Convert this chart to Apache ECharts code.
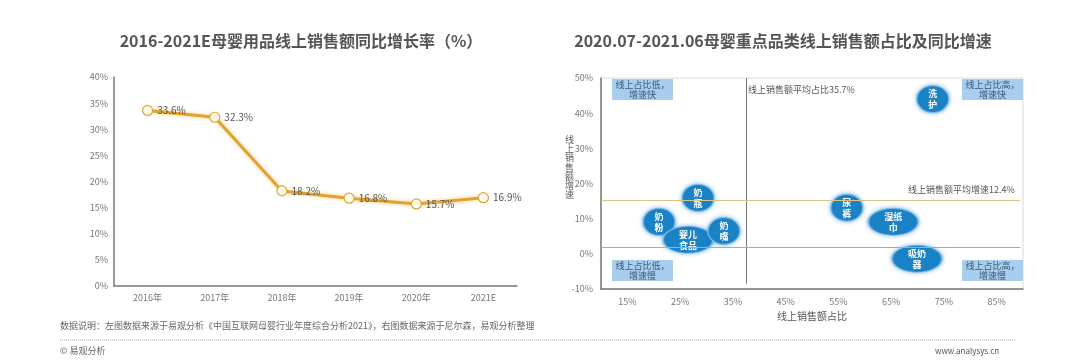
<!DOCTYPE html>
<html><head><meta charset="utf-8">
<script src="https://cdn.jsdelivr.net/npm/echarts@6/dist/echarts.min.js"></script>
<style>html,body{margin:0;padding:0;background:#fff;}#c{width:1080px;height:360px;}</style>
</head><body><div id="c"></div>
<script>
// Left chart data
const lineYears = ['2016年', '2017年', '2018年', '2019年', '2020年', '2021E'];
const lineRates = [33.6, 32.3, 18.2, 16.8, 15.7, 16.9];
const leftYTicks = [0, 40, 5];
// Right chart data
const bubbleLabels = ['奶\n瓶', '奶\n粉', '婴儿\n食品', '奶\n嘴', '尿\n裤', '湿纸\n巾', '吸奶\n器', '洗\n护'];
const bubbleShare = [28.4, 21.0, 26.5, 33.3, 56.6, 65.4, 69.9, 72.9];
const bubbleGrowth = [15.9, 9.1, 4.0, 6.5, 13.1, 9.1, -1.4, 44.0];
const avgShareText = 35.7;
const avgGrowthText = 12.4;
const avgShareLine = 37.6;
const avgGrowthLine = 15.3;
const baseGrowthLine = 2.0;
const shareTicks = [10, 90, 5];
const growthTicks = [-10, 50, 10];
const quadrantTexts = ['线上占比低，\n增速快', '线上占比高，\n增速快', '线上占比低，\n增速慢', '线上占比高，\n增速慢'];
const yNameRight = '线上销售额增速';

const FONT = '"Noto Sans CJK SC", "Noto Sans", sans-serif';
const chart = echarts.init(document.getElementById('c'));

function quadBox(left, top, txt) {
  return {
    type: 'group', left: left, top: top,
    children: [
      {type: 'rect', shape: {x: 0, y: 0, width: 61, height: 21}, style: {fill: '#a9cdee'}},
      {type: 'text', x: 30.5, y: 10.5, style: {text: txt, fill: '#3b5878', fontSize: 9, fontFamily: FONT, align: 'center', verticalAlign: 'middle', lineHeight: 10}}
    ]
  };
}
const yNameChars = yNameRight.split('').map((ch, i) => ({
  type: 'text', left: 565, top: 135 + i * 9.2,
  style: {text: ch, fill: '#5a5a5a', fontSize: 9, fontFamily: FONT}
}));

chart.setOption({
  backgroundColor: '#fff',
  textStyle: {fontFamily: FONT},
  title: [
    {text: '2016-2021E母婴用品线上销售额同比增长率（%）', left: 296, top: 28, textAlign: 'center',
     textStyle: {fontSize: 16, fontWeight: 'bold', color: '#555', fontFamily: FONT}},
    {text: '2020.07-2021.06母婴重点品类线上销售额占比及同比增速', left: 778, top: 28, textAlign: 'center',
     textStyle: {fontSize: 16, fontWeight: 'bold', color: '#555', fontFamily: FONT}}
  ],
  grid: [
    {left: 114, right: 563, top: 77, bottom: 74},
    {left: 601, right: 57, top: 78, bottom: 71, show: true, borderColor: '#dcdcdc', borderWidth: 1}
  ],
  xAxis: [
    {type: 'category', gridIndex: 0, data: lineYears, boundaryGap: true,
     axisLine: {lineStyle: {color: '#777', width: 1.5}}, axisTick: {show: false},
     axisLabel: {color: '#777', fontSize: 9, margin: 7}},
    {type: 'value', gridIndex: 1, min: shareTicks[0], max: shareTicks[1], interval: shareTicks[2],
     splitLine: {show: false}, axisTick: {show: false},
     axisLine: {show: true, onZero: false, lineStyle: {color: '#777', width: 1.5}},
     axisLabel: {color: '#777', fontSize: 9, margin: 8,
       formatter: v => (v % 10 === 5 ? v + '%' : '')},
     name: '线上销售额占比', nameLocation: 'middle', nameGap: 21,
     nameTextStyle: {color: '#555', fontSize: 10}}
  ],
  yAxis: [
    {type: 'value', gridIndex: 0, min: leftYTicks[0], max: leftYTicks[1], interval: leftYTicks[2],
     splitLine: {show: false}, axisLine: {show: true, lineStyle: {color: '#777', width: 1.5}},
     axisTick: {show: false}, axisLabel: {color: '#777', fontSize: 9, formatter: '{value}%', margin: 6}},
    {type: 'value', gridIndex: 1, min: growthTicks[0], max: growthTicks[1], interval: growthTicks[2],
     splitLine: {show: false}, axisLine: {show: true, onZero: false, lineStyle: {color: '#777', width: 1.5}},
     axisTick: {show: false}, axisLabel: {color: '#777', fontSize: 9, formatter: '{value}%', margin: 8}}
  ],
  series: [
    {type: 'line', xAxisIndex: 0, yAxisIndex: 0, data: lineRates,
     symbol: 'circle', symbolSize: 10,
     lineStyle: {color: '#e0a232', width: 3, shadowColor: 'rgba(245,190,80,0.7)', shadowBlur: 4},
     itemStyle: {color: '#fffbe8', borderColor: '#d9a640', borderWidth: 1.2},
     label: {show: true, position: 'right', distance: 4, color: '#555', fontSize: 10,
             formatter: p => p.value.toFixed(1) + '%'}},
    {type: 'scatter', xAxisIndex: 1, yAxisIndex: 1,
     data: bubbleShare.map((s, i) => ({value: [s, bubbleGrowth[i]]})),
     symbol: 'circle',
     symbolSize: (v, p) => (bubbleLabels[p.dataIndex].split('\n')[0].length > 1 ? [50, 27] : [32, 27]),
     itemStyle: {color: '#1b82c6', borderColor: 'rgba(130,190,235,0.8)', borderWidth: 1.5,
                 shadowColor: 'rgba(40,130,200,0.5)', shadowBlur: 4, opacity: 1},
     label: {show: true, position: 'inside', color: '#fff', fontSize: 9, fontWeight: 'bold', lineHeight: 11,
             formatter: p => bubbleLabels[p.dataIndex]},
     markLine: {silent: true, symbol: 'none', label: {show: false},
       data: [
         [{coord: [avgShareLine, -8.5], lineStyle: {color: '#777', width: 1, type: 'solid'}},
          {coord: [avgShareLine, 50]}],
         [{coord: [10, avgGrowthLine], lineStyle: {color: '#d8c48a', width: 1, type: 'solid'}},
          {coord: [89.5, avgGrowthLine]}],
         [{coord: [10, baseGrowthLine], lineStyle: {color: '#aaa', width: 1, type: 'solid'}},
          {coord: [89.5, baseGrowthLine]}]
       ]}}
  ],
  graphic: [
    quadBox(612, 79, quadrantTexts[0]),
    quadBox(962, 79, quadrantTexts[1]),
    quadBox(612, 260, quadrantTexts[2]),
    quadBox(962, 260, quadrantTexts[3]),
    {type: 'text', left: 748, top: 85, style: {text: '线上销售额平均占比' + avgShareText + '%', fill: '#555', fontSize: 9, fontFamily: FONT}},
    {type: 'text', left: 908, top: 185, style: {text: '线上销售额平均增速' + avgGrowthText + '%', fill: '#555', fontSize: 9, fontFamily: FONT}},
    ...yNameChars,
    {type: 'text', left: 60, top: 321, style: {text: '数据说明：左图数据来源于易观分析《中国互联网母婴行业年度综合分析2021》，右图数据来源于尼尔森，易观分析整理', fill: '#666', fontSize: 9, fontFamily: FONT}},
    {type: 'line', shape: {x1: 60, y1: 340, x2: 1015, y2: 340}, style: {stroke: '#aaa', lineWidth: 1, lineDash: [1, 1]}},
    {type: 'text', left: 60, top: 346, style: {text: '© 易观分析', fill: '#666', fontSize: 9, fontFamily: FONT}},
    {type: 'text', left: 935, top: 347, style: {text: 'www.analysys.cn', fill: '#555', fontSize: 8, fontFamily: FONT}}
  ]
});
</script></body></html>
